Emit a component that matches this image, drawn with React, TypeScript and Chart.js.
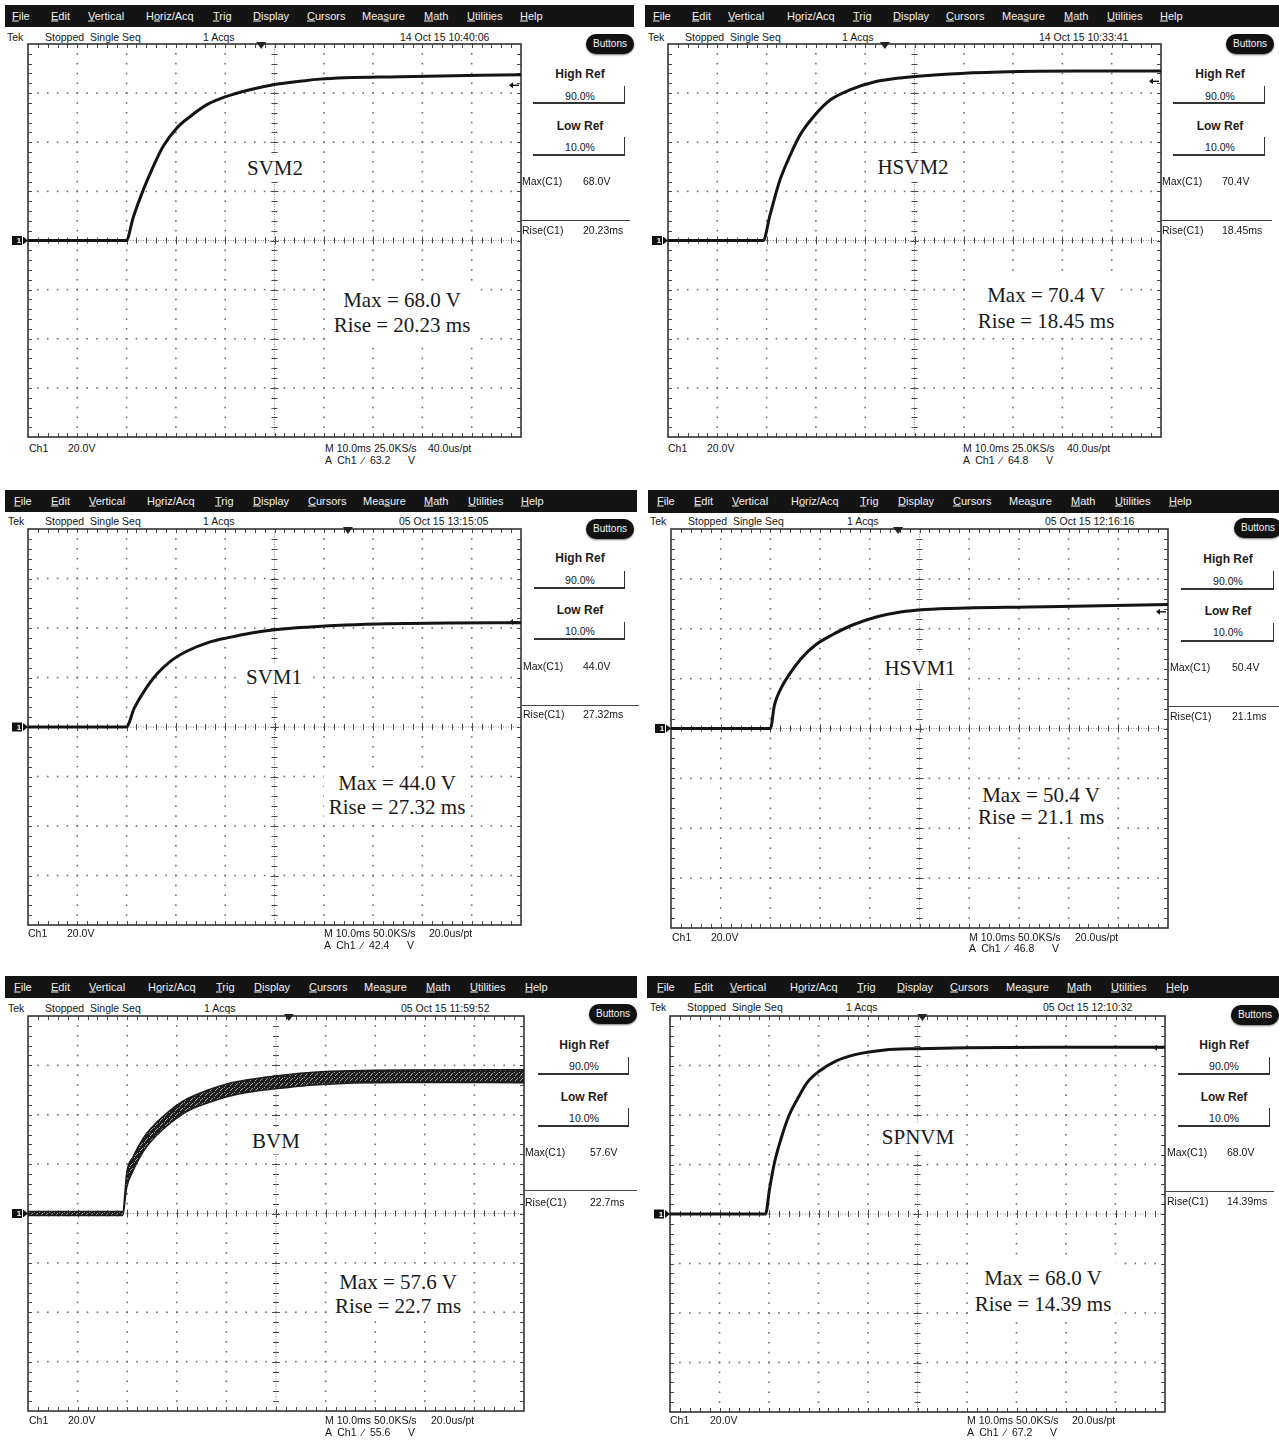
import React, { useEffect, useRef } from "react";
import { Chart, registerables } from "chart.js";

Chart.register(...registerables);

// ---------------- data (time in ms, 10 ms/div; voltage in V, 20 V/div) ----------------
const svm2Time = [0, 19.9, 21.4, 23.4, 25.4, 27.4, 30.2, 32.9, 36.3, 40.3, 45.0, 49.8, 55.2, 59.2, 75.5, 100];
const svm2Volt = [0, 0, 9.8, 20.7, 30.1, 38.3, 45.8, 50.5, 55.3, 58.7, 61.4, 63.4, 64.8, 65.7, 66.7, 67.5];

const hsvm2Time = [0, 19.3, 20.7, 22.7, 24.8, 26.8, 29.8, 32.9, 36.9, 42.0, 47.1, 57.2, 67.3, 83.6, 100];
const hsvm2Volt = [0, 0, 10.4, 24.6, 34.8, 43.0, 51.1, 57.2, 61.3, 64.6, 66.2, 67.8, 68.6, 69.0, 69.0];

const svm1Time = [0, 19.9, 21.6, 23.6, 26.1, 29.0, 32.3, 36.5, 40.6, 45.6, 50.5, 57.2, 64.6, 72.9, 85.3, 100];
const svm1Volt = [0, 0, 7.8, 14.6, 21.3, 26.7, 30.7, 34.1, 36.1, 38.1, 39.4, 40.4, 41.2, 41.7, 42.0, 42.1];

const hsvm1Time = [0, 20.0, 20.8, 22.1, 23.7, 26.2, 29.0, 32.3, 36.4, 41.3, 46.2, 51.2, 59.4, 71.7, 83.9, 100];
const hsvm1Volt = [0, 0, 9.3, 16.0, 21.4, 28.1, 33.4, 37.4, 41.4, 44.7, 46.7, 47.7, 48.3, 48.7, 49.1, 49.7];

const bvmTime = [0, 19.1, 19.9, 21.2, 22.6, 23.9, 26.0, 28.6, 32.0, 36.0, 40.1, 45.4, 50.8, 57.5, 75.0, 100];
const bvmUpper = [0.8, 0.8, 16.5, 23.0, 28.4, 32.4, 37.0, 41.7, 46.4, 49.8, 52.5, 54.5, 55.9, 57.2, 58.1, 58.2];
const bvmLower = [-0.8, -0.8, 10.5, 17.4, 22.9, 27.0, 31.8, 36.5, 41.3, 44.6, 47.3, 49.4, 50.7, 52.1, 53.1, 53.0];

const spnvmTime = [0, 19.3, 20.1, 21.1, 22.4, 24.0, 25.7, 27.7, 30.2, 33.5, 37.6, 43.4, 50.0, 59.9, 76.3, 100];
const spnvmVolt = [0, 0, 10.0, 20.7, 30.2, 39.6, 46.3, 53.1, 57.8, 61.8, 64.5, 66.3, 66.8, 67.2, 67.4, 67.4];

const methodNames = ["SVM2", "HSVM2", "SVM1", "HSVM1", "BVM", "SPNVM"];
const maxValues = ["68.0", "70.4", "44.0", "50.4", "57.6", "68.0"];
const riseValues = ["20.23", "18.45", "27.32", "21.1", "22.7", "14.39"];
const trigLevels = [63.2, 64.8, 42.4, 46.8, 55.6, 67.2];
const trigTimes = [47.3, 44.0, 64.9, 45.7, 52.6, 51.0];
const dateStamps = [
  "14 Oct 15 10:40:06",
  "14 Oct 15 10:33:41",
  "05 Oct 15 13:15:05",
  "05 Oct 15 12:16:16",
  "05 Oct 15 11:59:52",
  "05 Oct 15 12:10:32",
];
const sampleRates = ["25.0KS/s", "25.0KS/s", "50.0KS/s", "50.0KS/s", "50.0KS/s", "50.0KS/s"];
const pointSpacing = ["40.0us/pt", "40.0us/pt", "20.0us/pt", "20.0us/pt", "20.0us/pt", "20.0us/pt"];
const menuItems = ["File", "Edit", "Vertical", "Horiz/Acq", "Trig", "Display", "Cursors", "Measure", "Math", "Utilities", "Help"];
const menuUnderline = [0, 0, 0, 1, 0, 0, 0, 3, 0, 0, 0];

// ---------------- layout (positions only) ----------------
type Layout = {
  bar: number[];
  menuX: number[];
  menuY: number;
  statusY: number;
  statusX: number[];
  grid: number[]; // left, top, right, bottom
  buttons: number[];
  refX: number;
  refY: number[];
  boxX: number[];
  boxTop: number[];
  boxBottom: number[];
  measX: number[];
  maxY: number;
  lineY: number;
  lineX2: number;
  riseY: number;
  bottomY: number[];
  bottomX: number[];
  label: number[];
  maxText: number[];
  riseTextY: number;
};

const layouts: Layout[] = [
  {
    bar: [5, 5, 634, 27], menuX: [12, 51, 88, 146, 213, 253, 307, 362, 424, 467, 520], menuY: 16,
    statusY: 37, statusX: [7, 45, 203, 400], grid: [28, 44, 521, 437], buttons: [610, 44],
    refX: 580, refY: [74, 96, 126, 147], boxX: [533, 625], boxTop: [86, 137], boxBottom: [103, 155],
    measX: [522, 583], maxY: 181, lineY: 220, lineX2: 630, riseY: 230,
    bottomY: [448, 460], bottomX: [29, 68, 325, 428], label: [275, 168], maxText: [402, 300], riseTextY: 325,
  },
  {
    bar: [645, 5, 1279, 27], menuX: [653, 692, 728, 787, 853, 893, 946, 1002, 1064, 1107, 1160], menuY: 16,
    statusY: 37, statusX: [648, 685, 842, 1039], grid: [668, 44, 1161, 437], buttons: [1250, 44],
    refX: 1220, refY: [74, 96, 126, 147], boxX: [1173, 1265], boxTop: [86, 137], boxBottom: [103, 155],
    measX: [1162, 1222], maxY: 181, lineY: 220, lineX2: 1272, riseY: 230,
    bottomY: [448, 460], bottomX: [668, 707, 963, 1067], label: [913, 167], maxText: [1046, 295], riseTextY: 321,
  },
  {
    bar: [5, 490, 637, 512], menuX: [14, 51, 89, 147, 215, 253, 308, 363, 424, 468, 521], menuY: 501,
    statusY: 521, statusX: [8, 45, 203, 399], grid: [28, 529, 521, 925], buttons: [610, 529],
    refX: 580, refY: [558, 580, 610, 631], boxX: [534, 625], boxTop: [571, 622], boxBottom: [588, 639],
    measX: [523, 583], maxY: 666, lineY: 705, lineX2: 639, riseY: 714,
    bottomY: [933, 945], bottomX: [28, 67, 324, 429], label: [274, 677], maxText: [397, 783], riseTextY: 807,
  },
  {
    bar: [648, 490, 1279, 513], menuX: [657, 694, 732, 791, 860, 898, 953, 1009, 1071, 1115, 1169], menuY: 501,
    statusY: 521, statusX: [650, 688, 847, 1045], grid: [671, 529, 1168, 928], buttons: [1258, 528],
    refX: 1228, refY: [559, 581, 611, 632], boxX: [1181, 1274], boxTop: [571, 623], boxBottom: [589, 641],
    measX: [1170, 1232], maxY: 667, lineY: 706, lineX2: 1279, riseY: 716,
    bottomY: [937, 948], bottomX: [672, 711, 969, 1075], label: [920, 668], maxText: [1041, 795], riseTextY: 817,
  },
  {
    bar: [5, 976, 637, 998], menuX: [14, 51, 89, 148, 216, 254, 309, 364, 426, 470, 525], menuY: 987,
    statusY: 1008, statusX: [8, 45, 204, 401], grid: [28, 1016, 524, 1411], buttons: [613, 1014],
    refX: 584, refY: [1045, 1066, 1097, 1118], boxX: [538, 629], boxTop: [1057, 1108], boxBottom: [1074, 1126],
    measX: [525, 590], maxY: 1152, lineY: 1190, lineX2: 637, riseY: 1202,
    bottomY: [1420, 1432], bottomX: [29, 68, 325, 431], label: [276, 1141], maxText: [398, 1282], riseTextY: 1306,
  },
  {
    bar: [647, 976, 1279, 998], menuX: [657, 694, 730, 790, 857, 897, 950, 1006, 1067, 1111, 1166], menuY: 987,
    statusY: 1007, statusX: [650, 687, 846, 1043], grid: [670, 1016, 1165, 1412], buttons: [1255, 1015],
    refX: 1224, refY: [1045, 1066, 1097, 1118], boxX: [1178, 1270], boxTop: [1057, 1108], boxBottom: [1074, 1126],
    measX: [1167, 1227], maxY: 1152, lineY: 1191, lineX2: 1274, riseY: 1201,
    bottomY: [1420, 1432], bottomX: [670, 710, 967, 1072], label: [918, 1137], maxText: [1043, 1278], riseTextY: 1304,
  },
];

type Series = { time: number[]; volt?: number[]; upper?: number[]; lower?: number[] };
const series: Series[] = [
  { time: svm2Time, volt: svm2Volt },
  { time: hsvm2Time, volt: hsvm2Volt },
  { time: svm1Time, volt: svm1Volt },
  { time: hsvm1Time, volt: hsvm1Volt },
  { time: bvmTime, upper: bvmUpper, lower: bvmLower },
  { time: spnvmTime, volt: spnvmVolt },
];

const SANS = '"Liberation Sans", Arial, "DejaVu Sans", sans-serif';
const SERIF = '"Liberation Serif", "Times New Roman", "DejaVu Serif", serif';
const PL = 20, PR = 6, PT = 8, PB = 4;

const zip = (t: number[], v: number[]) => t.map((x, i) => ({ x, y: v[i] }));

function makeBandPattern(): CanvasPattern | string {
  const c = document.createElement("canvas");
  c.width = 5;
  c.height = 5;
  const g = c.getContext("2d");
  if (!g) return "rgba(30,30,30,0.75)";
  g.fillStyle = "#1e1e1e";
  g.fillRect(0, 0, 5, 5);
  g.fillStyle = "#a8a8a8";
  g.fillRect(1, 4, 1, 1);
  g.fillRect(2, 2, 1, 1);
  g.fillRect(3, 1, 1, 1);
  g.fillRect(4, 0, 1, 1);
  return g.createPattern(c, "repeat") || "rgba(30,30,30,0.75)";
}

function makeGraticule(trigTime: number, trigLevel: number) {
  return {
    id: "graticule",
    beforeDatasetsDraw(chart: any) {
      const { ctx, chartArea: a, scales } = chart;
      const xs = scales.x, ys = scales.y;
      ctx.save();
      // dotted division lines
      ctx.fillStyle = "#6e6e6e";
      for (let i = 1; i < 10; i++) {
        if (i === 5) continue;
        const px = xs.getPixelForValue(i * 10);
        for (let j = 1; j < 40; j++) {
          const py = ys.getPixelForValue(-80 + j * 4);
          ctx.fillRect(px - 0.8, py - 0.8, 1.6, 1.6);
        }
      }
      for (let j = 1; j < 8; j++) {
        if (j === 4) continue;
        const py = ys.getPixelForValue(-80 + j * 20);
        for (let i = 1; i < 50; i++) {
          const px = xs.getPixelForValue(i * 2);
          ctx.fillRect(px - 0.8, py - 0.8, 1.6, 1.6);
        }
      }
      const cx = xs.getPixelForValue(50), cy = ys.getPixelForValue(0);
      // center lines (fine dotted)
      ctx.strokeStyle = "#8a8a8a";
      ctx.lineWidth = 1;
      ctx.setLineDash([1, 1.5]);
      ctx.beginPath();
      ctx.moveTo(a.left, cy); ctx.lineTo(a.right, cy);
      ctx.moveTo(cx, a.top); ctx.lineTo(cx, a.bottom);
      ctx.stroke();
      ctx.setLineDash([]);
      // minor ticks on center lines and borders
      ctx.strokeStyle = "#4a4a4a";
      ctx.lineWidth = 1;
      ctx.beginPath();
      for (let i = 1; i < 50; i++) {
        const px = Math.round(xs.getPixelForValue(i * 2)) + 0.5;
        const big = i % 5 === 0;
        ctx.moveTo(px, cy - (big ? 4 : 3)); ctx.lineTo(px, cy + (big ? 4 : 3));
        ctx.moveTo(px, a.top); ctx.lineTo(px, a.top + 4);
        ctx.moveTo(px, a.bottom); ctx.lineTo(px, a.bottom - 4);
      }
      for (let j = 1; j < 40; j++) {
        const py = Math.round(ys.getPixelForValue(-80 + j * 4)) + 0.5;
        const big = j % 5 === 0;
        ctx.moveTo(cx - (big ? 4 : 3), py); ctx.lineTo(cx + (big ? 4 : 3), py);
        ctx.moveTo(a.left, py); ctx.lineTo(a.left + 4, py);
        ctx.moveTo(a.right, py); ctx.lineTo(a.right - 4, py);
      }
      ctx.stroke();
      // frame
      ctx.strokeStyle = "#333";
      ctx.lineWidth = 1.6;
      ctx.strokeRect(a.left, a.top, a.right - a.left, a.bottom - a.top);
      // trigger level arrow (right edge)
      const ty = ys.getPixelForValue(trigLevel);
      ctx.strokeStyle = "#111";
      ctx.fillStyle = "#111";
      ctx.lineWidth = 1.4;
      ctx.beginPath();
      ctx.moveTo(a.right - 2, ty); ctx.lineTo(a.right - 9, ty);
      ctx.stroke();
      ctx.beginPath();
      ctx.moveTo(a.right - 12, ty); ctx.lineTo(a.right - 8, ty - 3); ctx.lineTo(a.right - 8, ty + 3);
      ctx.closePath(); ctx.fill();
      // ground marker "1 >"
      ctx.fillStyle = "#111";
      ctx.fillRect(a.left - 16, cy - 4.5, 10, 9);
      ctx.beginPath();
      ctx.moveTo(a.left - 5, cy - 4); ctx.lineTo(a.left, cy); ctx.lineTo(a.left - 5, cy + 4);
      ctx.closePath(); ctx.fill();
      ctx.fillStyle = "#fff";
      ctx.font = "bold 8px " + SANS;
      ctx.textAlign = "center";
      ctx.textBaseline = "middle";
      ctx.fillText("1", a.left - 9, cy + 0.5);
      ctx.restore();
    },
    afterDatasetsDraw(chart: any) {
      const { ctx, chartArea: a, scales } = chart;
      const tx = scales.x.getPixelForValue(trigTime);
      ctx.save();
      ctx.fillStyle = "#222";
      ctx.beginPath();
      ctx.moveTo(tx - 5, a.top - 2); ctx.lineTo(tx + 5, a.top - 2); ctx.lineTo(tx, a.top + 5);
      ctx.closePath(); ctx.fill();
      ctx.restore();
    },
  };
}

const Txt = ({ x, y, children, style, center }: any) => (
  <div
    style={{
      position: "absolute",
      left: x,
      top: y,
      transform: center ? "translate(-50%,-50%)" : "translateY(-50%)",
      whiteSpace: "pre",
      lineHeight: 1,
      ...style,
    }}
  >
    {children}
  </div>
);

function ScopeChart({ idx }: { idx: number }) {
  const ref = useRef<HTMLCanvasElement>(null);
  const L = layouts[idx];
  const [gl, gt, gr, gb] = L.grid;
  const w = gr - gl + PL + PR;
  const h = gb - gt + PT + PB;
  useEffect(() => {
    const s = series[idx];
    const common = { pointRadius: 0, cubicInterpolationMode: "monotone" as const, borderJoinStyle: "round" as const };
    const datasets: any[] = s.volt
      ? [{ data: zip(s.time, s.volt), borderColor: "#141414", borderWidth: 3, fill: false, ...common }]
      : [
          { data: zip(s.time, s.upper!), borderColor: "#1b1b1b", borderWidth: 1.5, fill: false, ...common },
          {
            data: zip(s.time, s.lower!),
            borderColor: "#1b1b1b",
            borderWidth: 1.5,
            fill: "-1",
            backgroundColor: makeBandPattern(),
            ...common,
          },
        ];
    const chart = new Chart(ref.current!, {
      type: "line",
      data: { datasets },
      options: {
        animation: false,
        responsive: false,
        events: [],
        layout: { padding: { left: PL, right: PR, top: PT, bottom: PB } },
        plugins: { legend: { display: false }, tooltip: { enabled: false } },
        scales: {
          x: { type: "linear", min: 0, max: 100, display: false },
          y: { type: "linear", min: -80, max: 80, display: false },
        },
      },
      plugins: [makeGraticule(trigTimes[idx], trigLevels[idx]) as any],
    });
    return () => chart.destroy();
  }, [idx]);
  return (
    <canvas
      ref={ref}
      width={w}
      height={h}
      style={{ position: "absolute", left: gl - PL, top: gt - PT, width: w, height: h }}
    />
  );
}

function Panel({ idx }: { idx: number }) {
  const L = layouts[idx];
  const small = { fontFamily: SANS, fontSize: 10.5, color: "#151515" };
  const serif = { fontFamily: SERIF, fontSize: 21, color: "#1a1a1a", background: "#fff", padding: "3px 5px" };
  return (
    <>
      <div
        style={{
          position: "absolute",
          left: L.bar[0],
          top: L.bar[1],
          width: L.bar[2] - L.bar[0],
          height: L.bar[3] - L.bar[1],
          background: "#141414",
        }}
      />
      {menuItems.map((m, i) => {
        const u = menuUnderline[i];
        return (
          <Txt key={m} x={L.menuX[i]} y={L.menuY} style={{ fontFamily: SANS, fontSize: 11, color: "#f2f2f2" }}>
            {m.slice(0, u)}
            <u>{m[u]}</u>
            {m.slice(u + 1)}
          </Txt>
        );
      })}
      <Txt x={L.statusX[0]} y={L.statusY} style={small}>Tek</Txt>
      <Txt x={L.statusX[1]} y={L.statusY} style={small}>{"Stopped  Single Seq"}</Txt>
      <Txt x={L.statusX[2]} y={L.statusY} style={small}>1 Acqs</Txt>
      <Txt x={L.statusX[3]} y={L.statusY} style={small}>{dateStamps[idx]}</Txt>

      <ScopeChart idx={idx} />

      <div
        style={{
          position: "absolute",
          left: L.buttons[0] - 24,
          top: L.buttons[1] - 10,
          width: 48,
          height: 20,
          borderRadius: 10,
          background: "#111",
          boxShadow: "0 1px 2px #777",
          color: "#f5f5f5",
          fontFamily: SANS,
          fontSize: 10,
          lineHeight: "20px",
          textAlign: "center",
        }}
      >
        Buttons
      </div>
      <Txt center x={L.refX} y={L.refY[0]} style={{ fontFamily: SANS, fontSize: 12, fontWeight: "bold", color: "#1c1c1c" }}>High Ref</Txt>
      <Txt center x={L.refX} y={L.refY[1]} style={small}>90.0%</Txt>
      <Txt center x={L.refX} y={L.refY[2]} style={{ fontFamily: SANS, fontSize: 12, fontWeight: "bold", color: "#1c1c1c" }}>Low Ref</Txt>
      <Txt center x={L.refX} y={L.refY[3]} style={small}>10.0%</Txt>
      {[0, 1].map((k) => (
        <React.Fragment key={k}>
          <div style={{ position: "absolute", left: L.boxX[0], top: L.boxBottom[k] - 1, width: L.boxX[1] - L.boxX[0], height: 1.5, background: "#333" }} />
          <div style={{ position: "absolute", left: L.boxX[1] - 1.5, top: L.boxTop[k], width: 1.5, height: L.boxBottom[k] - L.boxTop[k], background: "#333" }} />
        </React.Fragment>
      ))}
      <Txt x={L.measX[0]} y={L.maxY} style={small}>Max(C1)</Txt>
      <Txt x={L.measX[1]} y={L.maxY} style={small}>{maxValues[idx] + "V"}</Txt>
      <div style={{ position: "absolute", left: L.grid[2], top: L.lineY, width: L.lineX2 - L.grid[2], height: 1.2, background: "#444" }} />
      <Txt x={L.measX[0]} y={L.riseY} style={small}>Rise(C1)</Txt>
      <Txt x={L.measX[1]} y={L.riseY} style={small}>{riseValues[idx] + "ms"}</Txt>

      <Txt x={L.bottomX[0]} y={L.bottomY[0]} style={small}>Ch1</Txt>
      <Txt x={L.bottomX[1]} y={L.bottomY[0]} style={small}>20.0V</Txt>
      <Txt x={L.bottomX[2]} y={L.bottomY[0]} style={small}>{"M 10.0ms " + sampleRates[idx]}</Txt>
      <Txt x={L.bottomX[3]} y={L.bottomY[0]} style={small}>{pointSpacing[idx]}</Txt>
      <Txt x={L.bottomX[2]} y={L.bottomY[1]} style={small}>{"A  Ch1  \u2215  " + trigLevels[idx].toFixed(1) + "      V"}</Txt>

      <Txt center x={L.label[0]} y={L.label[1]} style={serif}>{methodNames[idx]}</Txt>
      <Txt center x={L.maxText[0]} y={(L.maxText[1] + L.riseTextY) / 2} style={{ ...serif, textAlign: "center", lineHeight: `${L.riseTextY - L.maxText[1]}px` }}>
        {"Max = " + maxValues[idx] + " V\nRise = " + riseValues[idx] + " ms"}
      </Txt>
    </>
  );
}

export default function App() {
  return (
    <div
      style={{
        position: "absolute",
        left: 0,
        top: 0,
        width: 1279,
        height: 1442,
        overflow: "hidden",
        background: "#ffffff",
      }}
    >
      {methodNames.map((_, i) => (
        <Panel key={i} idx={i} />
      ))}
    </div>
  );
}
